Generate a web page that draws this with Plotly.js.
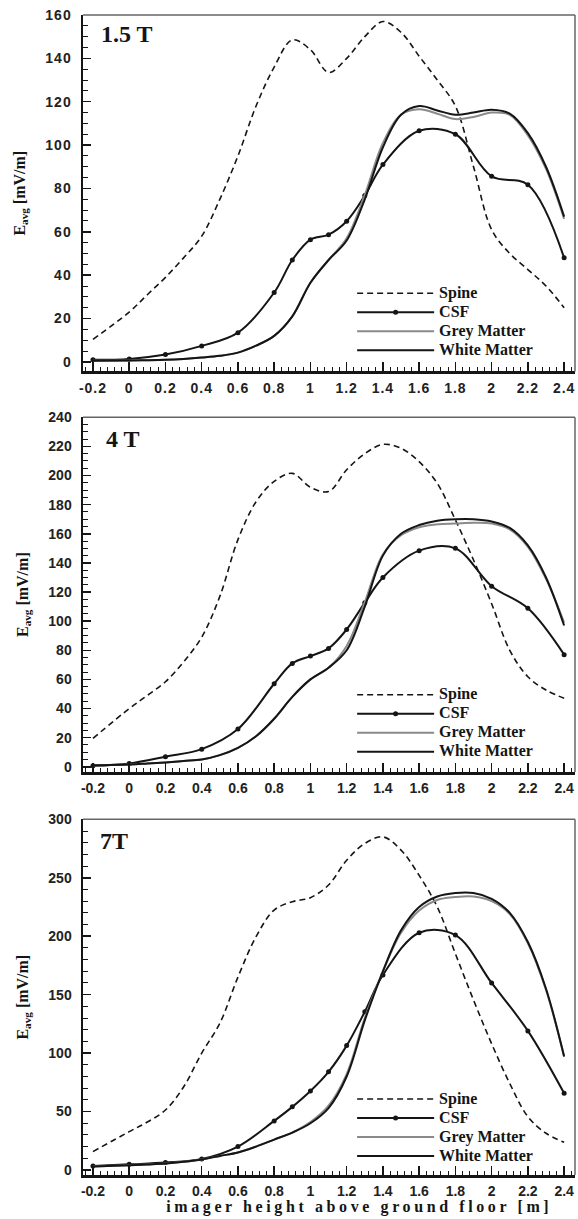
<!DOCTYPE html>
<html><head><meta charset="utf-8">
<script src="https://cdn.plot.ly/plotly-3.0.1.min.js"></script>
<style>
html,body{margin:0;padding:0;background:#fff;}
#chart{width:578px;height:1219px;}
.xtick text, .ytick text {letter-spacing:1px;}
g.annotation[data-index="3"] text {letter-spacing:3.6px;}
</style></head><body><div id="chart"></div><script>
// shared x positions
var xLine = [-0.2, 0, 0.1, 0.2, 0.3, 0.4, 0.5, 0.6, 0.7, 0.8, 0.9, 1.0, 1.1, 1.2, 1.3, 1.4, 1.5, 1.6, 1.7, 1.8, 1.9, 2.0, 2.1, 2.2, 2.3, 2.4];
var xCsf = [-0.2, 0, 0.2, 0.4, 0.6, 0.8, 0.9, 1.0, 1.1, 1.2, 1.3, 1.4, 1.6, 1.8, 2.0, 2.2, 2.4];
var seriesNames = ['Spine', 'CSF', 'Grey Matter', 'White Matter'];
var panelLabels = ['1.5 T', '4 T', '7T'];
var xTickVals = [-0.2, 0, 0.2, 0.4, 0.6, 0.8, 1, 1.2, 1.4, 1.6, 1.8, 2, 2.2, 2.4];
var xTickText = ['-0.2', '0', '0.2', '0.4', '0.6', '0.8', '1', '1.2', '1.4', '1.6', '1.8', '2', '2.2', '2.4'];
var xTitle = 'imager height above ground floor [m]';
var yTitle = 'E<sub>avg</sub> [mV/m]';

// 1.5 T
var spine15 = [10.4, 23, 31, 39, 48, 58, 75, 95, 118, 136, 148.5, 144, 133.5, 140, 150, 157, 152, 141, 130, 118, 90, 61, 50, 42.6, 35, 25];
var csf15 = [1, 1.4, 3.4, 7.4, 13.5, 32, 47, 56.4, 58.7, 64.9, 76.7, 91, 106.6, 105, 85.6, 81.7, 48];
var grey15 = [0.5, 0.7, 0.8, 1.0, 1.4, 2.0, 2.8, 4.3, 7.5, 12, 21, 36.5, 47, 57, 77, 101, 114, 116.5, 114.5, 112, 113, 115, 114, 104.5, 89, 66];
var white15 = [0.5, 0.7, 0.8, 1.0, 1.4, 2.0, 2.8, 4.3, 7.5, 12, 21, 36.5, 47, 56, 75, 99, 114, 118, 116, 114, 115, 116.3, 114.5, 105.5, 90, 67];

// 4 T
var spine4 = [19.5, 40, 49, 58.4, 72, 89, 117, 156, 182, 196, 201.5, 192, 189, 204, 215, 221.4, 218.7, 209.5, 194.6, 169.5, 142, 112, 80, 61.8, 52.7, 47];
var csf4 = [0.7, 2.3, 6.9, 12.1, 25.9, 57, 71, 76, 81.3, 94.3, 112.7, 130, 148.4, 150, 124, 108.8, 77];
var grey4 = [1, 1.5, 2.2, 3, 4, 5, 8, 13, 21, 33, 48, 60, 68, 83, 113, 146, 159, 164.5, 166.5, 167, 167.5, 167, 163, 151, 129, 99];
var white4 = [1, 1.5, 2.2, 3, 4, 5, 8, 13, 21, 33, 48, 60, 68, 80, 110, 145, 160, 166, 169, 170, 170, 168.5, 164, 152, 130, 97];

// 7 T
var spine7 = [15.7, 32.8, 41, 51.3, 71, 100, 125.5, 165, 199.6, 222.4, 229.5, 233, 243.8, 265, 279.4, 285, 273.7, 252, 225, 185, 145.4, 108, 74, 45.6, 31.4, 23.7];
var csf7 = [3.4, 4.8, 6.3, 9.4, 20, 42, 54, 67.6, 84, 106.4, 135.4, 166.8, 203, 201, 160, 119, 65.6];
var grey7 = [3, 4, 4.7, 5.5, 7, 9, 12, 15, 20, 26, 32, 41, 55, 82, 130, 170, 203, 222, 231, 233.5, 234, 230, 219, 194, 154, 97];
var white7 = [3, 4, 4.7, 5.5, 7, 9, 12, 15, 20, 26, 32, 40, 53, 80, 128, 170, 205, 225, 234, 237, 237, 232, 220, 195, 155, 97];

var panels = [
  {spine: spine15, csf: csf15, grey: grey15, white: white15, yr: [-4.4, 160], dt: 20, mdt: 5,
   dom: [0.6927, 1.0], legY: 0.7356, lab: {x: 0.033, y: 0.9835}},
  {spine: spine4, csf: csf4, grey: grey4, white: white4, yr: [-3.6, 240], dt: 20, mdt: 5,
   dom: [0.3474, 0.6532], legY: 0.3895, lab: {x: 0.042, y: 0.6345}},
  {spine: spine7, csf: csf7, grey: grey7, white: white7, yr: [-4.3, 300], dt: 50, mdt: 10,
   dom: [0.0, 0.3066], legY: 0.0409, lab: {x: 0.031, y: 0.288}}
];

var INK = '#151515';
var traces = [];
var layout = {
  width: 578, height: 1219,
  margin: {l: 83, r: 3, t: 15, b: 44},
  paper_bgcolor: '#fff', plot_bgcolor: '#fff',
  showlegend: true,
  annotations: [], shapes: []
};

panels.forEach(function (p, i) {
  var s = i === 0 ? '' : String(i + 1);
  var xa = 'x' + s, ya = 'y' + s, lg = 'legend' + s;
  var common = {xaxis: xa, yaxis: ya, legend: lg, hoverinfo: 'skip', mode: 'lines'};
  traces.push(Object.assign({}, common, {x: xLine, y: p.spine, name: seriesNames[0],
    line: {color: INK, width: 1.6, dash: '6px,4px', shape: 'spline', smoothing: 1}}));
  traces.push(Object.assign({}, common, {x: xCsf, y: p.csf, name: seriesNames[1], mode: 'lines+markers',
    line: {color: INK, width: 2, shape: 'spline', smoothing: 1},
    marker: {color: INK, size: 5}}));
  traces.push(Object.assign({}, common, {x: xLine, y: p.grey, name: seriesNames[2],
    line: {color: '#8a8a8a', width: 2, shape: 'spline', smoothing: 1}}));
  traces.push(Object.assign({}, common, {x: xLine, y: p.white, name: seriesNames[3],
    line: {color: INK, width: 2, shape: 'spline', smoothing: 1}}));

  layout['xaxis' + s] = {
    anchor: ya, domain: [0, 1], range: [-0.255, 2.46],
    tickmode: 'array', tickvals: xTickVals, ticktext: xTickText,
    showgrid: false, zeroline: false, showline: true, linecolor: INK, linewidth: 2.5,
    ticks: 'inside', ticklen: 9, tickwidth: 1.5, tickcolor: INK,
    minor: {ticks: 'inside', ticklen: 4, tickwidth: 1, tickcolor: INK, dtick: 0.04, tick0: 0, showgrid: false},
    tickfont: {family: 'Liberation Sans', size: 14, weight: 'bold', color: '#222'},
    ticklabelstandoff: 2, fixedrange: true
  };
  layout['yaxis' + s] = {
    anchor: xa, domain: p.dom, range: p.yr, dtick: p.dt, tick0: 0,
    showgrid: false, zeroline: false, showline: true, linecolor: INK, linewidth: 2.5,
    ticks: 'inside', ticklen: 8, tickwidth: 1.5, tickcolor: INK,
    minor: {ticks: 'inside', ticklen: 5, tickwidth: 1, tickcolor: INK, dtick: p.mdt, tick0: 0, showgrid: false},
    tickfont: {family: 'Liberation Sans', size: 14, weight: 'bold', color: '#222'},
    ticklabelstandoff: 6, fixedrange: true,
    title: {text: yTitle, font: {family: 'Liberation Serif', size: 16, weight: 'bold', color: INK}, standoff: 16}
  };
  layout[lg] = {
    x: 0.547, xanchor: 'left', y: p.legY, yanchor: 'middle',
    bgcolor: 'rgba(0,0,0,0)', borderwidth: 0, itemwidth: 77, tracegroupgap: 0,
    font: {family: 'Liberation Serif', size: 12, weight: 'bold', color: INK}
  };
  // thin top and right frame
  layout.shapes.push({type: 'line', xref: xa + ' domain', yref: ya + ' domain', x0: 0, x1: 1, y0: 1, y1: 1,
    line: {color: '#666', width: 1.5}});
  layout.shapes.push({type: 'line', xref: xa + ' domain', yref: ya + ' domain', x0: 1, x1: 1, y0: 0, y1: 1,
    line: {color: '#666', width: 1.5}});
  layout.annotations.push({text: panelLabels[i], xref: 'paper', yref: 'paper', x: p.lab.x, y: p.lab.y,
    xanchor: 'left', yanchor: 'middle', showarrow: false,
    font: {family: 'Liberation Serif', size: 24, weight: 'bold', color: INK}});
});

layout.annotations.push({text: xTitle, xref: 'paper', yref: 'paper', x: 0.561, y: -0.0276,
  xanchor: 'center', yanchor: 'middle', showarrow: false,
  font: {family: 'Liberation Serif', size: 16, weight: 'bold', color: INK}});

function enlargeLegendText() {
  var root = document.getElementById('chart');
  root.querySelectorAll('.infolayer text').forEach(function (t) {
    if (seriesNames.indexOf(t.textContent) >= 0) {
      t.style.setProperty('font-size', '16px', 'important');
      // lift the clipping of the legend box so the larger text is fully visible
      var n = t.parentNode;
      while (n && n !== root) {
        if (n.removeAttribute) n.removeAttribute('clip-path');
        n = n.parentNode;
      }
    }
  });
}
Plotly.newPlot('chart', traces, layout, {staticPlot: true, displayModeBar: false}).then(enlargeLegendText);
</script></body></html>
